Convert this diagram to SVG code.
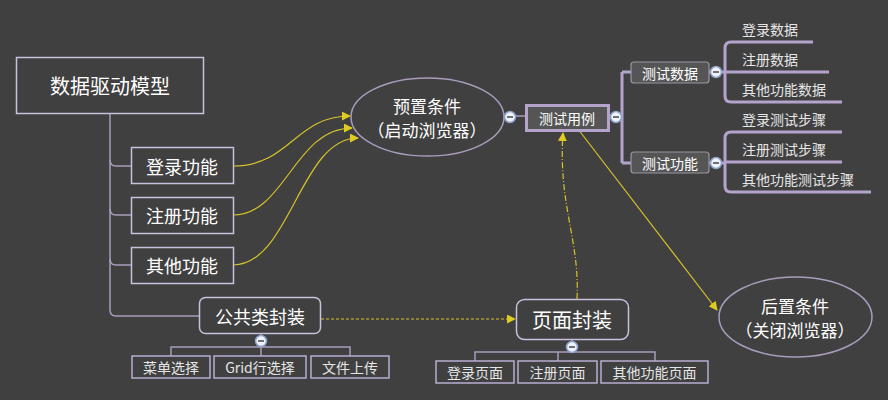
<svg xmlns="http://www.w3.org/2000/svg" width="888" height="400" viewBox="0 0 888 400">
<defs>
<style>
.t{font-family:"Noto Sans CJK SC","Noto Sans",sans-serif;fill:#ffffff;text-anchor:middle;dominant-baseline:central}
.l{font-family:"Noto Sans CJK SC","Noto Sans",sans-serif;fill:#e6e6e6;font-size:14px;dominant-baseline:central}
.box{fill:none;stroke:#c8c0dc;stroke-width:1.5}
.sub{fill:none;stroke:#b8acd0;stroke-width:1.5}
.ln{fill:none;stroke:#a89cbc;stroke-width:1.5}
.th{fill:none;stroke:#b4a4cc;stroke-width:3}
.y{fill:none;stroke:#d6c22a;stroke-width:1.2}
.tag{fill:#555555;stroke:#9a96a4;stroke-width:1.2}
</style>
<marker id="ah" viewBox="0 0 10 10" refX="9" refY="5" markerWidth="9" markerHeight="9" markerUnits="userSpaceOnUse" orient="auto">
<path d="M0,0 L10,5 L0,10 Z" fill="#e0cc20"/>
</marker>
<g id="btn">
<circle r="5.5" fill="#eef2fa" stroke="#8ea2cc" stroke-width="1.5"/>
<path d="M-3,0 H3" stroke="#505050" stroke-width="1.6"/>
</g>
</defs>
<rect width="888" height="400" fill="#404040"/>

<g id="connectors">
<path class="ln" d="M110,113 V310 Q110,316 116,316 H199"/>
<path class="ln" d="M110,160 Q110,166 116,166 H131"/>
<path class="ln" d="M110,209 Q110,215 116,215 H131"/>
<path class="ln" d="M110,259 Q110,265 116,265 H131"/>
<path class="ln" d="M504,116 H525"/>
<path class="th" d="M609,117 H622 M622,72 V163 M622,72 H631 M622,163 H631"/>
<path class="th" d="M709,72 H725 M709,163 H725"/>
<path class="th" d="M813,42 H731 Q725,42 725,48 V96 Q725,102 731,102 H842 M725,72 H829"/>
<path class="th" d="M842,132 H731 Q725,132 725,138 V186 Q725,192 731,192 H871 M725,162 H842"/>
<path class="ln" d="M261,334 V347 M171,356 V347 H350 V356 M261,347 V356"/>
<path class="ln" d="M572,339 V352 M475,361 V352 H655 V361 M558,352 V361"/>
<path class="y" d="M233,166 C290,166 295,116 350,116" marker-end="url(#ah)"/>
<path class="y" d="M233,215 C285,215 295,128 352,128" marker-end="url(#ah)"/>
<path class="y" d="M233,265 C290,265 300,138 358,138" marker-end="url(#ah)"/>
<path class="y" d="M321,319 H515" stroke-dasharray="3,2" stroke-width="1.6" marker-end="url(#ah)"/>
<path class="y" d="M577,299 C580,240 558,205 563,133" stroke-dasharray="6,2,1,2" marker-end="url(#ah)"/>
<path class="y" d="M578,129 L717,310" marker-end="url(#ah)"/>
</g>

<g id="root">
<rect class="box" x="16.5" y="57.5" width="187" height="56"/>
<text class="t" x="110" y="85" font-size="20">数据驱动模型</text>
</g>
<g id="login">
<rect class="box" x="131.5" y="147.5" width="102" height="36"/>
<text class="t" x="182" y="166" font-size="18">登录功能</text>
</g>
<g id="register">
<rect class="box" x="131.5" y="197.5" width="102" height="36"/>
<text class="t" x="182" y="215" font-size="18">注册功能</text>
</g>
<g id="other">
<rect class="box" x="131.5" y="247.5" width="102" height="36"/>
<text class="t" x="182" y="265" font-size="18">其他功能</text>
</g>
<g id="pre">
<ellipse cx="427.5" cy="117" rx="76.5" ry="39" fill="none" stroke="#a89cbc" stroke-width="1.5"/>
<text class="t" x="427" y="105" font-size="17">预置条件</text>
<text class="t" x="427" y="129" font-size="17">（启动浏览器）</text>
<use href="#btn" x="510" y="117"/>
</g>
<g id="testcase">
<rect x="526.5" y="105.5" width="82" height="25" fill="#555555" stroke="#b4a4cc" stroke-width="3"/>
<text class="t" x="567" y="118" font-size="14">测试用例</text>
<use href="#btn" x="616" y="117"/>
</g>
<g id="testdata">
<rect class="tag" x="631" y="62" width="78" height="21" rx="3"/>
<text class="t" x="670" y="72.5" font-size="14">测试数据</text>
<use href="#btn" x="716" y="72"/>
</g>
<g id="testfunc">
<rect class="tag" x="631" y="152" width="78" height="21" rx="3"/>
<text class="t" x="670" y="162.5" font-size="14">测试功能</text>
<use href="#btn" x="716" y="163"/>
</g>
<g id="d1"><text class="l" x="742" y="29">登录数据</text></g>
<g id="d2"><text class="l" x="742" y="59">注册数据</text></g>
<g id="d3"><text class="l" x="742" y="89">其他功能数据</text></g>
<g id="s1"><text class="l" x="742" y="119">登录测试步骤</text></g>
<g id="s2"><text class="l" x="742" y="149">注册测试步骤</text></g>
<g id="s3"><text class="l" x="742" y="179">其他功能测试步骤</text></g>
<g id="common">
<rect class="box" x="199.5" y="297.5" width="121" height="36" rx="6"/>
<text class="t" x="260" y="316" font-size="18">公共类封装</text>
<use href="#btn" x="261" y="341"/>
</g>
<g id="c1"><rect class="sub" x="132" y="356" width="78" height="22"/><text class="l" x="171" y="367" text-anchor="middle">菜单选择</text></g>
<g id="c2"><rect class="sub" x="214" y="356" width="92" height="22"/><text class="l" x="260" y="367" text-anchor="middle">Grid行选择</text></g>
<g id="c3"><rect class="sub" x="311" y="356" width="78" height="22"/><text class="l" x="350" y="367" text-anchor="middle">文件上传</text></g>
<g id="page">
<rect class="box" x="516.5" y="299.5" width="112" height="40" rx="8"/>
<text class="t" x="572" y="319" font-size="20">页面封装</text>
<use href="#btn" x="572" y="347"/>
</g>
<g id="p1"><rect class="sub" x="436" y="361" width="78" height="22"/><text class="l" x="475" y="372" text-anchor="middle">登录页面</text></g>
<g id="p2"><rect class="sub" x="518" y="361" width="79" height="22"/><text class="l" x="557.5" y="372" text-anchor="middle">注册页面</text></g>
<g id="p3"><rect class="sub" x="601" y="361" width="107" height="22"/><text class="l" x="654.5" y="372" text-anchor="middle">其他功能页面</text></g>
<g id="post">
<ellipse cx="795.5" cy="317" rx="76.5" ry="40" fill="none" stroke="#a89cbc" stroke-width="1.5"/>
<text class="t" x="795" y="305" font-size="17">后置条件</text>
<text class="t" x="795" y="329" font-size="17">（关闭浏览器）</text>
</g>
</svg>
